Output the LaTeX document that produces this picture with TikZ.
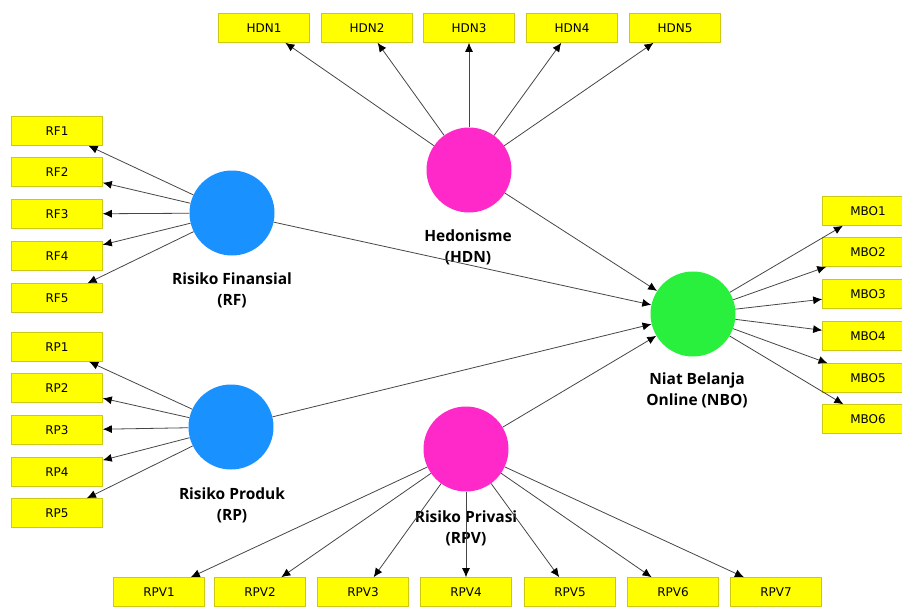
\documentclass[tikz,border=0pt]{standalone}
\usepackage{fontspec}
\setmainfont{DejaVu Sans}
\newfontfamily\lblfont{Open Sans}
\usetikzlibrary{arrows.meta}
\definecolor{boxyellow}{RGB}{255,255,0}
\definecolor{boxedge}{RGB}{205,200,20}
\definecolor{riskblue}{RGB}{25,145,255}
\definecolor{pinkc}{RGB}{255,40,200}
\definecolor{greenc}{RGB}{40,240,60}
\definecolor{linegray}{RGB}{70,70,70}

\begin{document}
\begin{tikzpicture}[x=1pt,y=-1pt,
  ind/.style={draw=boxedge,fill=boxyellow,line width=0.6pt,minimum width=91pt,minimum height=29pt,inner sep=0pt,font=\fontsize{12}{12}\selectfont},
  lv/.style={circle,minimum size=85pt,inner sep=0pt},
  lvname/.style={align=center,font=\lblfont\bfseries\fontsize{15.5}{21}\selectfont},
  path/.style={draw=linegray,line width=0.8pt,-{Latex[length=9pt,width=8pt,black]}}]

\useasboundingbox (0,0) rectangle (902,606);

% latent variables
\node[lv,fill=riskblue] (RF) at (232,213) {};
\node[lv,fill=riskblue] (RP) at (231,427) {};
\node[lv,fill=pinkc] (HDN) at (469,170) {};
\node[lv,fill=pinkc] (RPV) at (466,449) {};
\node[lv,fill=greenc] (NBO) at (693,314) {};

\node[lvname] (RFt) at (232,290) {Risiko Finansial\\(RF)};
\node[lvname] (RPt) at (232,505) {Risiko Produk\\(RP)};
\node[lvname] (HDNt) at (468,247) {Hedonisme\\(HDN)};
\node[lvname] (RPVt) at (466,528) {Risiko Privasi\\(RPV)};
\node[lvname] (NBOt) at (697,390) {Niat Belanja\\Online (NBO)};

% indicators
\node[ind] (RF1) at (57,131) {RF1};
\node[ind] (RF2) at (57,172) {RF2};
\node[ind] (RF3) at (57,214) {RF3};
\node[ind] (RF4) at (57,256) {RF4};
\node[ind] (RF5) at (57,298) {RF5};

\node[ind] (RP1) at (57,347) {RP1};
\node[ind] (RP2) at (57,388) {RP2};
\node[ind] (RP3) at (57,430) {RP3};
\node[ind] (RP4) at (57,472) {RP4};
\node[ind] (RP5) at (57,513) {RP5};

\node[ind] (HDN1) at (264,28) {HDN1};
\node[ind] (HDN2) at (367,28) {HDN2};
\node[ind] (HDN3) at (469,28) {HDN3};
\node[ind] (HDN4) at (572,28) {HDN4};
\node[ind] (HDN5) at (675,28) {HDN5};

\node[ind] (MBO1) at (868,211) {MBO1};
\node[ind] (MBO2) at (868,252) {MBO2};
\node[ind] (MBO3) at (868,294) {MBO3};
\node[ind] (MBO4) at (868,336) {MBO4};
\node[ind] (MBO5) at (868,378) {MBO5};
\node[ind] (MBO6) at (868,419) {MBO6};

\node[ind] (RPV1) at (159,592) {RPV1};
\node[ind] (RPV2) at (260,592) {RPV2};
\node[ind] (RPV3) at (363,592) {RPV3};
\node[ind] (RPV4) at (466,592) {RPV4};
\node[ind] (RPV5) at (570,592) {RPV5};
\node[ind] (RPV6) at (673,592) {RPV6};
\node[ind] (RPV7) at (776,592) {RPV7};

% outer loadings
\foreach \i in {1,...,5} {
  \draw[path] (RF) -- (RF\i);
  \draw[path] (RP) -- (RP\i);
  \draw[path] (HDN) -- (HDN\i);
}
\foreach \i in {1,...,6}
  \draw[path] (NBO) -- (MBO\i);
\foreach \i in {1,...,7}
  \draw[path] (RPV) -- (RPV\i);

% inner model
\draw[path] (RF) -- (NBO);
\draw[path] (HDN) -- (NBO);
\draw[path] (RP) -- (NBO);
\draw[path] (RPV) -- (NBO);
\end{tikzpicture}
\end{document}
